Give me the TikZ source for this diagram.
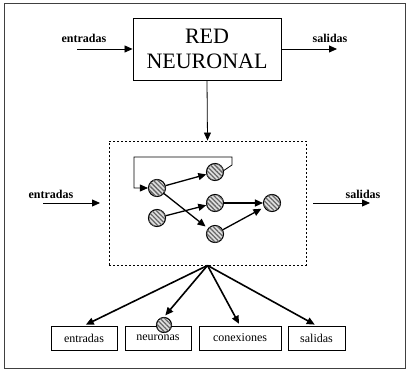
\documentclass[tikz,border=0pt]{standalone}
\usepackage{fontspec}
\setmainfont{Liberation Serif}
\usetikzlibrary{arrows.meta,patterns.meta}
\tikzset{
  neuron/.style={circle,draw,line width=1.1pt,minimum size=17pt,inner sep=0pt,
    fill=gray!25,postaction={pattern={Lines[angle=-45,distance=3.2pt,line width=1.3pt]},pattern color=black!60}},
  partbox/.style={draw,line width=.8pt,minimum height=24pt,inner sep=0pt,font=\fontsize{12}{14}\selectfont},
  tag/.style={font=\bfseries\fontsize{12}{14}\selectfont,inner sep=0pt},
}
\begin{document}
\begin{tikzpicture}[x=1pt,y=-1pt,>={Triangle[length=8pt,width=7pt]}]
\useasboundingbox (0,0) rectangle (409,371);
\draw[line width=1pt,black!75] (4,4) rectangle (405,368);
% upper block
\node[draw,line width=.9pt,minimum width=148pt,minimum height=62pt,align=center,
  font=\fontsize{22}{25}\selectfont] (red) at (207,49) {RED\\NEURONAL};
\node[tag] (in1) at (84,38) {entradas};
\node[tag] (out1) at (330,38) {salidas};
\coordinate (in1s) at (77,49);
\coordinate (out1e) at (337,49);
\draw[->,line width=.8pt] (in1s) -- (red.west);
\draw[->,line width=.8pt] (red.east) -- (out1e);
% the net
\node[draw,dash pattern=on 2pt off 2pt,line width=.9pt,minimum width=197pt,minimum height=124pt] (net) at (207.5,203) {};
\draw[->,line width=.8pt] (red.south) -- (net.north);
\node[tag] (in2) at (51,194) {entradas};
\node[tag] (out2) at (363,194) {salidas};
\coordinate (in2s) at (43,203);
\coordinate (in2e) at (100,203);
\coordinate (out2s) at (313,203);
\coordinate (out2e) at (370,203);
\draw[->,line width=.8pt] (in2s) -- (in2e);
\draw[->,line width=.8pt] (out2s) -- (out2e);
\node[neuron] (a) at (157,188) {};
\node[neuron] (b) at (215,172) {};
\node[neuron] (c) at (215,203) {};
\node[neuron] (d) at (157,218) {};
\node[neuron] (e) at (215,234) {};
\node[neuron] (f) at (272,203) {};
\begin{scope}[line width=1.3pt]
\draw[->] (a) -- (b);
\draw[->,shorten >=3pt] (a) -- (e);
\draw[->] (d) -- (c);
\draw[->] (c) -- (f);
\draw[->,shorten >=3pt] (e) -- (f);
\draw[->,line width=.8pt] (b.10) -- (232,165) |- (134,157) |- (a.west);
\end{scope}
% parts
\node[partbox,minimum width=66pt] (p1) at (84,338) {entradas};
\node[partbox,minimum width=66pt] (p2) at (158,338) {neuronas};
\node[partbox,minimum width=82pt] (p3) at (240,338) {conexiones};
\node[partbox,minimum width=57pt] (p4) at (316.5,338) {salidas};
\node[neuron,minimum size=15pt] (nn) at (164,325) {};
\begin{scope}[line width=1.6pt,shorten >=2pt]
\draw[->] (net.south) -- (p1.north);
\draw[->] (net.south) -- (nn.north);
\draw[->] (net.south) -- (p3.north);
\draw[->] (net.south) -- (p4.north);
\end{scope}
\end{tikzpicture}
\end{document}
